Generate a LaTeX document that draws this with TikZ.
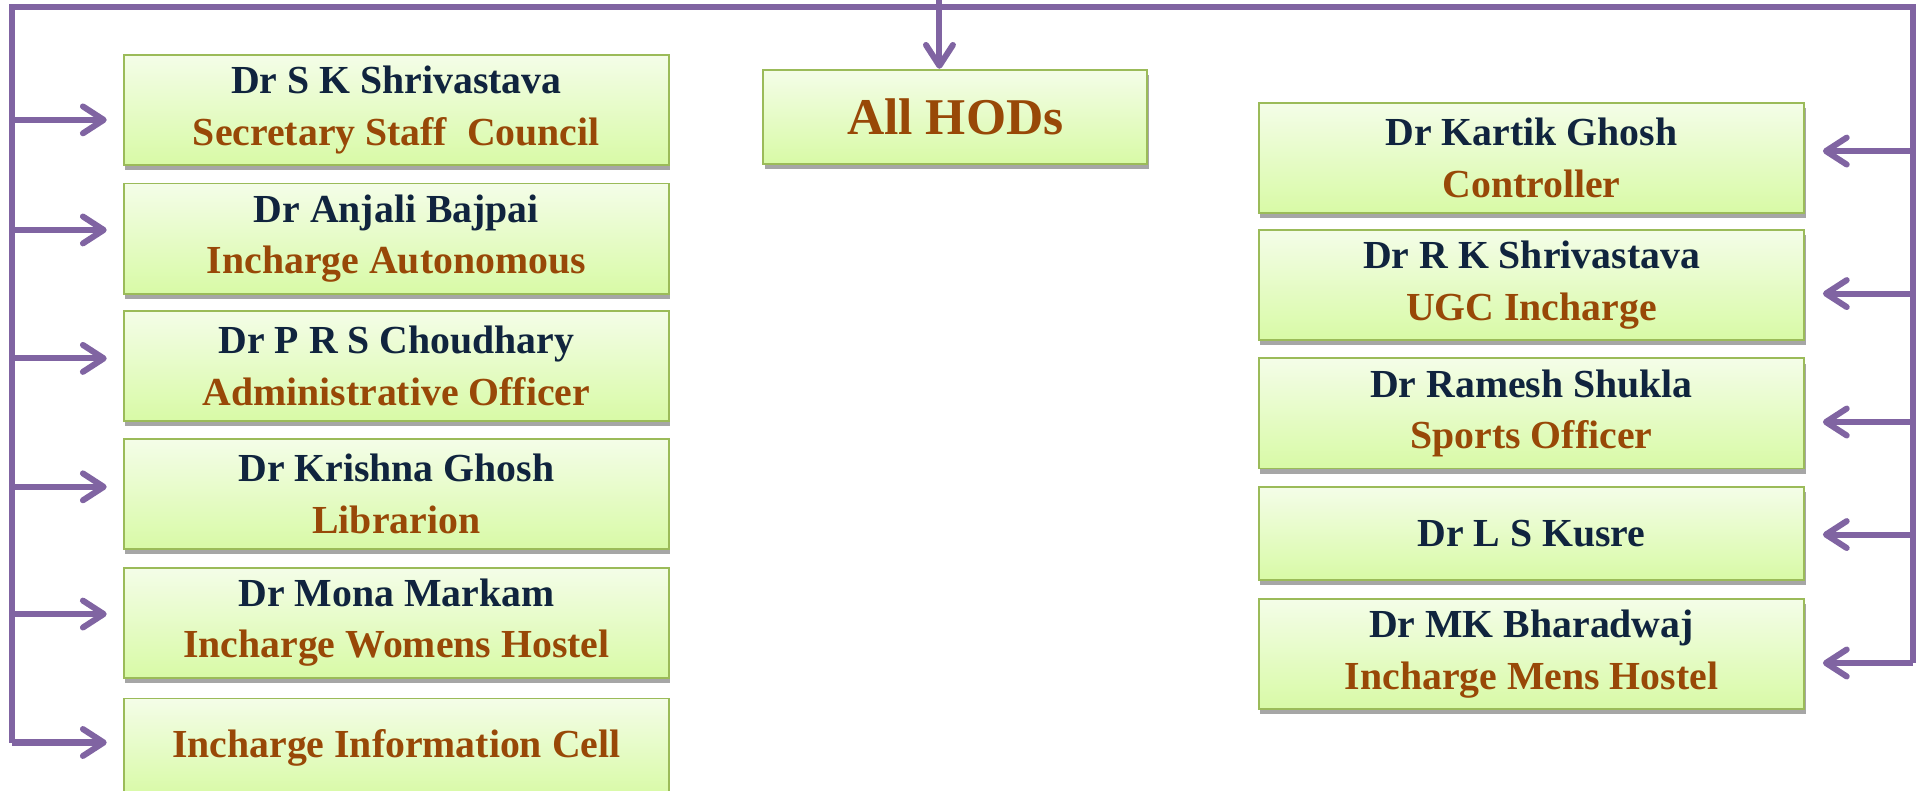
\documentclass[tikz,border=0pt]{standalone}
\usepackage{fontspec}
\setmainfont{Liberation Serif}
\usepackage{tikz}
\usepackage{xcolor}
\usetikzlibrary{calc,shadows,arrows.meta,positioning}

\definecolor{linkpurple}{HTML}{8064A2}
\definecolor{boxedge}{HTML}{9BBB59}
\definecolor{boxtop}{HTML}{F4FDE8}
\definecolor{boxbottom}{HTML}{D8FAA6}
\definecolor{namecol}{HTML}{10243E}
\definecolor{postcol}{HTML}{984807}

\newcommand{\person}[2]{{\color{namecol}#1}\\{\color{postcol}#2}}
\newcommand{\post}[1]{{\color{postcol}#1}}

\begin{document}
\begin{tikzpicture}[x=0.02cm, y=-0.02cm,
  officebox/.style={draw=boxedge, line width=0.9pt, top color=boxtop, bottom color=boxbottom,
    drop shadow={shadow xshift=0.6pt, shadow yshift=-2.4pt, opacity=0.35, fill=black},
    minimum width=8.92cm, minimum height=1.8cm, align=center,
    font=\bfseries\fontsize{18.5}{24}\selectfont},
  link/.style={draw=linkpurple, line width=2.8pt},
  pointer/.style={-{Straight Barb[length=3.4mm, width=4.4mm, round]}}]
\useasboundingbox (0,0) rectangle (1568,646);
% left column
\node[officebox] (l1) at (324,90) {\person{Dr S K Shrivastava}{Secretary Staff\ \ Council}};
\node[officebox] (l2) at (324,195) {\person{Dr Anjali Bajpai}{Incharge Autonomous}};
\node[officebox] (l3) at (324,299) {\person{Dr P R S Choudhary}{Administrative Officer}};
\node[officebox] (l4) at (324,404) {\person{Dr Krishna Ghosh}{Librarion}};
\node[officebox] (l5) at (324,509) {\person{Dr Mona Markam}{Incharge Womens Hostel}};
\node[officebox, minimum height=1.6cm] (l6) at (324,611) {\post{Incharge Information Cell}};
% middle
\node[officebox, minimum width=6.28cm, minimum height=1.54cm,
  font=\bfseries\fontsize{24}{28}\selectfont] (hod) at (781,95.5) {\post{All HODs}};
% right column
\node[officebox] (r1) at (1252,129) {\person{Dr Kartik Ghosh}{Controller}};
\node[officebox] (r2) at (1252,233) {\person{Dr R K Shrivastava}{UGC Incharge}};
\node[officebox] (r3) at (1252,338) {\person{Dr Ramesh Shukla}{Sports Officer}};
\node[officebox, minimum height=1.52cm] (r4) at (1252,436) {\color{namecol}Dr L S Kusre};
\node[officebox] (r5) at (1252,534.5) {\person{Dr MK Bharadwaj}{Incharge Mens Hostel}};
% frame
\coordinate (tl) at (10,6);
\coordinate (tr) at (1564,6);
\coordinate (drop) at (768,0);
\foreach \i/\dy in {1/8,2/-7,3/-6,4/-6,5/-7,6/-4}
  \coordinate (al\i) at ($(l\i.west)+(-13,\dy)$);
\foreach \i/\dy in {1/-5.5,2/7,3/7,4/1,5/7.5}
  \coordinate (ar\i) at ($(r\i.east)+(14.5,\dy)$);
\draw[link] (al6 -| tl) -- (tl) -- (tr) -- (ar5 -| tr);
\foreach \i in {1,...,6}
  \draw[link, pointer] (al\i -| tl) -- (al\i);
\foreach \i in {1,...,5}
  \draw[link, pointer] (ar\i -| tr) -- (ar\i);
\draw[link, pointer] (drop) -- (hod.north -| drop);
\end{tikzpicture}
\end{document}
